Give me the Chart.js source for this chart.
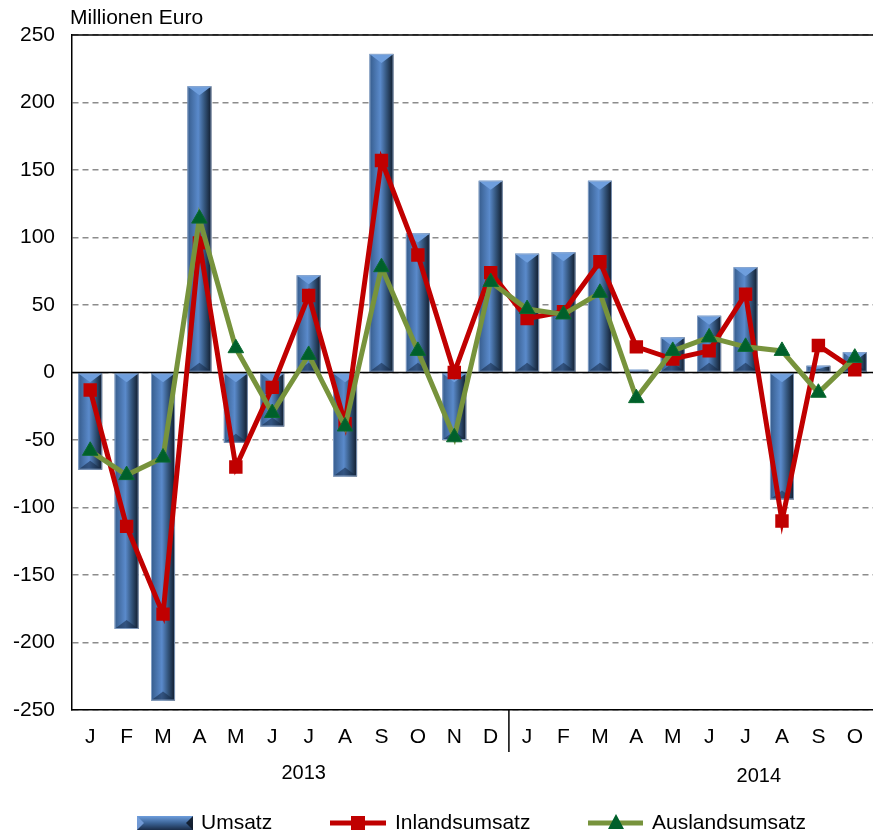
<!DOCTYPE html>
<html>
<head>
<meta charset="utf-8">
<script src="https://cdn.jsdelivr.net/npm/chart.js@4.4.1/dist/chart.umd.min.js"></script>
<style>
  html, body { margin: 0; padding: 0; background: #fff; overflow: hidden; }
  #wrap { position: relative; width: 873px; height: 835px; }
</style>
</head>
<body>
<div id="wrap"><canvas id="chart"></canvas></div>
<script>
const months = ['J', 'F', 'M', 'A', 'M', 'J', 'J', 'A', 'S', 'O', 'N', 'D',
	'J', 'F', 'M', 'A', 'M', 'J', 'J', 'A', 'S', 'O']
const years = ['2013', '2014']

const umsatz = [-72, -190, -243, 212, -52, -40, 72, -77, 236, 103, -50, 142,
	88, 89, 142, 2, 26, 42, 78, -94, 5, 15]
const inland = [-13, -114, -179, 96, -70, -11, 57, -38, 157, 87, 0, 74,
	40, 45, 82, 19, 10, 16, 58, -110, 20, 2]
const ausland = [-58, -76, -63, 114, 18, -30, 13, -40, 78, 16, -48, 67,
	47, 43, 59, -19, 16, 26, 19, 16, -15, 11]

const FONT = '"Liberation Sans", Arial, sans-serif'
const FS = 21

function barFace(c, x, top, w, h) {
	// horizontal gradient body with light/dark bevel ends
	const l = x - w / 2
	let g = c.createLinearGradient(l, 0, l + w, 0)
	g.addColorStop(0, '#365c8c')
	g.addColorStop(0.45, '#5a8acb')
	g.addColorStop(0.7, '#35577f')
	g.addColorStop(1, '#0f1a2a')
	c.fillStyle = g
	c.fillRect(l, top, w, h)
	const b = Math.min(9, h / 2)
	c.fillStyle = '#6e9edd'
	c.beginPath()
	c.moveTo(l, top)
	c.lineTo(l + w, top)
	c.lineTo(x, top + b)
	c.closePath()
	c.fill()
	c.fillStyle = 'rgba(20,40,70,0.55)'
	c.beginPath()
	c.moveTo(l, top + h)
	c.lineTo(l + w, top + h)
	c.lineTo(x, top + h - b)
	c.closePath()
	c.fill()
	c.strokeStyle = 'rgba(150,175,210,0.8)'
	c.lineWidth = 1
	c.strokeRect(l + 0.5, top + 0.5, w - 1, h - 1)
}

const decor = {
	id: 'decor',
	beforeDatasetsDraw(chart) {
		const c = chart.ctx
		const a = chart.chartArea
		c.save()
		c.strokeStyle = '#000'
		c.lineWidth = 1.5
		c.beginPath()
		c.moveTo(a.left, a.top)
		c.lineTo(a.right, a.top)
		c.stroke()
		c.restore()
	},
	afterDatasetDraw(chart, args) {
		if (args.index !== 0) return
		const c = chart.ctx
		const y0 = chart.scales.y.getPixelForValue(0)
		c.save()
		args.meta.data.forEach(el => {
			const top = Math.min(el.y, el.base)
			const h = Math.abs(el.base - el.y)
			if (h < 1) return
			barFace(c, el.x, top, el.width, h)
		})
		c.strokeStyle = '#000'
		c.lineWidth = 1.5
		c.beginPath()
		c.moveTo(chart.chartArea.left, y0)
		c.lineTo(chart.chartArea.right, y0)
		c.stroke()
		c.restore()
	},
	afterDraw(chart) {
		const c = chart.ctx
		const a = chart.chartArea
		const x = chart.scales.x
		c.save()
		c.fillStyle = '#000'
		c.font = FS + 'px ' + FONT
		c.textBaseline = 'middle'
		c.textAlign = 'left'
		c.fillText('Millionen Euro', 70, 18)

		// year separator
		const sep = (x.getPixelForTick(11) + x.getPixelForTick(12)) / 2
		c.strokeStyle = '#000'
		c.lineWidth = 1.5
		c.beginPath()
		c.moveTo(sep, a.bottom)
		c.lineTo(sep, a.bottom + 42)
		c.stroke()

		c.font = '20px ' + FONT
		c.textAlign = 'center'
		c.fillText(years[0], x.getPixelForTick(6) - 5, 773)
		c.fillText(years[1], (x.getPixelForTick(18) + x.getPixelForTick(19)) / 2 - 5, 776)

		// legend
		c.font = FS + 'px ' + FONT
		const ly = 823
		c.textAlign = 'left'
		let g = c.createLinearGradient(0, ly - 7, 0, ly + 7)
		g.addColorStop(0, '#6e9edd')
		g.addColorStop(0.5, '#3c6497')
		g.addColorStop(1, '#1a2c48')
		c.fillStyle = g
		c.fillRect(137, ly - 7, 56, 14)
		c.fillStyle = 'rgba(120,160,220,0.9)'
		c.beginPath()
		c.moveTo(137, ly - 7); c.lineTo(144, ly); c.lineTo(137, ly + 7); c.closePath()
		c.fill()
		c.fillStyle = 'rgba(15,25,40,0.9)'
		c.beginPath()
		c.moveTo(193, ly - 7); c.lineTo(186, ly); c.lineTo(193, ly + 7); c.closePath()
		c.fill()
		c.fillStyle = '#000'
		c.fillText('Umsatz', 201, ly)

		c.strokeStyle = '#c00000'
		c.lineWidth = 5
		c.beginPath()
		c.moveTo(330, ly)
		c.lineTo(386, ly)
		c.stroke()
		c.fillStyle = '#c00000'
		c.fillRect(351, ly - 7, 14, 14)
		c.fillStyle = '#000'
		c.fillText('Inlandsumsatz', 395, ly)

		c.strokeStyle = '#77933c'
		c.beginPath()
		c.moveTo(588, ly)
		c.lineTo(643, ly)
		c.stroke()
		c.fillStyle = '#00602b'
		c.beginPath()
		c.moveTo(616, ly - 9)
		c.lineTo(624, ly + 6)
		c.lineTo(608, ly + 6)
		c.closePath()
		c.fill()
		c.fillStyle = '#000'
		c.fillText('Auslandsumsatz', 652, ly)
		c.restore()
	}
}

new Chart(document.getElementById('chart'), {
	type: 'bar',
	data: {
		labels: months,
		datasets: [
			{
				type: 'bar',
				label: 'Umsatz',
				data: umsatz,
				backgroundColor: 'rgba(0,0,0,0)',
				barPercentage: 0.66,
				categoryPercentage: 1,
				order: 3,
			},
			{
				type: 'line',
				label: 'Inlandsumsatz',
				data: inland,
				borderColor: '#c00000',
				backgroundColor: '#c00000',
				borderWidth: 5,
				pointStyle: 'rect',
				pointRadius: 9.5,
				pointBorderWidth: 0,
				tension: 0,
				order: 2,
			},
			{
				type: 'line',
				label: 'Auslandsumsatz',
				data: ausland,
				borderColor: '#77933c',
				backgroundColor: '#00602b',
				pointBorderColor: '#0a6a30',
				borderWidth: 5,
				pointStyle: 'triangle',
				pointRadius: 9,
				pointBorderWidth: 1,
				tension: 0,
				order: 1,
			},
		],
	},
	options: {
		responsive: true,
		maintainAspectRatio: false,
		animation: false,
		layout: { autoPadding: false, padding: { top: 35, right: -4, left: 0, bottom: 0 } },
		plugins: {
			legend: { display: false },
			tooltip: { enabled: false },
		},
		scales: {
			x: {
				grid: { display: false, drawTicks: false },
				border: { display: true, color: '#000', width: 1.5 },
				ticks: { color: '#000', font: { family: FONT, size: FS }, padding: 15, maxRotation: 0, autoSkip: false },
				afterFit: s => { s.height = 125; s.paddingLeft = 0; s.paddingRight = 0 },
			},
			y: {
				min: -250,
				max: 250,
				grid: { color: '#8c8c8c', lineWidth: 1.5, drawTicks: false },
				border: { display: true, color: '#000', width: 1.5, dash: [6, 4] },
				ticks: { stepSize: 50, color: '#000', font: { family: FONT, size: FS }, padding: 17 },
				afterFit: s => { s.width = 72 },
			},
		},
	},
	plugins: [decor],
})
</script>
</body>
</html>
